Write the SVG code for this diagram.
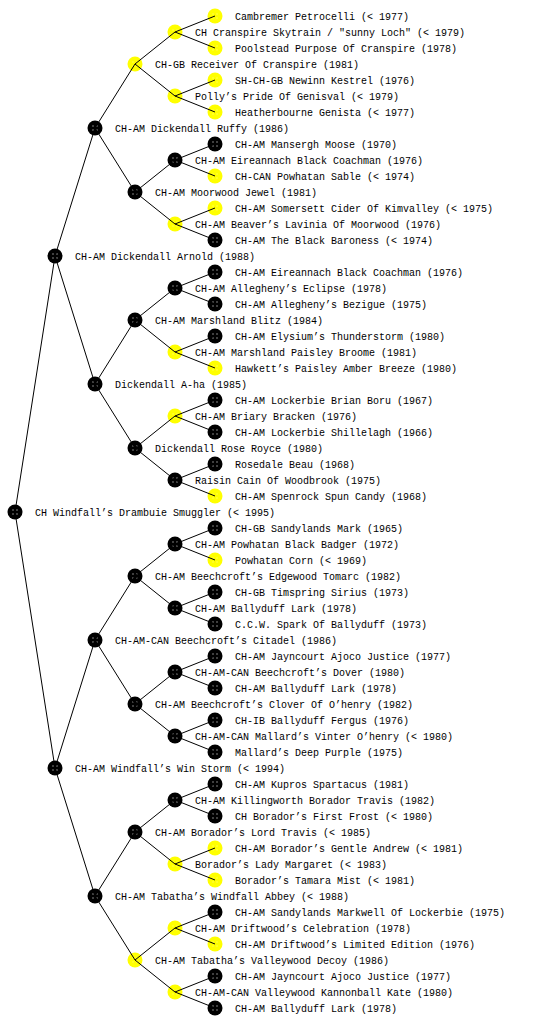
<svg xmlns="http://www.w3.org/2000/svg" xmlns:xlink="http://www.w3.org/1999/xlink" width="560" height="1024" viewBox="0 0 560 1024">
<style>
text{font-family:"Liberation Mono","DejaVu Sans Mono",monospace;font-size:10px;fill:#000}
#edges line{stroke:#000;stroke-width:1}
</style>
<defs>
<pattern id="wd" patternUnits="userSpaceOnUse" x="0.5" y="0.5" width="4" height="4"><rect x="1" y="1" width="1" height="1" fill="#fff"/></pattern>
<pattern id="yd" patternUnits="userSpaceOnUse" x="0.5" y="0.5" width="4" height="4"><rect x="1" y="1" width="1" height="1" fill="#ffff90"/></pattern>
<g id="B"><circle r="7.5" fill="#000"/><circle r="5" fill="url(#wd)"/></g>
<g id="Y"><circle r="7.5" fill="#ffff00"/><circle r="5" fill="url(#yd)"/></g>
</defs>
<rect width="560" height="1024" fill="#fff"/>
<g id="nodes">
<g id="n1"><use xlink:href="#Y" x="215" y="16"/><text x="235" y="19.5">Cambremer Petrocelli (&lt; 1977)</text></g>
<g id="n2"><use xlink:href="#Y" x="175" y="32"/><text x="195" y="35.5">CH Cranspire Skytrain / "sunny Loch" (&lt; 1979)</text></g>
<g id="n3"><use xlink:href="#Y" x="215" y="48"/><text x="235" y="51.5">Poolstead Purpose Of Cranspire (1978)</text></g>
<g id="n4"><use xlink:href="#Y" x="135" y="64"/><text x="155" y="67.5">CH-GB Receiver Of Cranspire (1981)</text></g>
<g id="n5"><use xlink:href="#Y" x="215" y="80"/><text x="235" y="83.5">SH-CH-GB Newinn Kestrel (1976)</text></g>
<g id="n6"><use xlink:href="#Y" x="175" y="96"/><text x="195" y="99.5">Polly’s Pride Of Genisval (&lt; 1979)</text></g>
<g id="n7"><use xlink:href="#Y" x="215" y="112"/><text x="235" y="115.5">Heatherbourne Genista (&lt; 1977)</text></g>
<g id="n8"><use xlink:href="#B" x="95" y="128"/><text x="115" y="131.5">CH-AM Dickendall Ruffy (1986)</text></g>
<g id="n9"><use xlink:href="#B" x="215" y="144"/><text x="235" y="147.5">CH-AM Mansergh Moose (1970)</text></g>
<g id="n10"><use xlink:href="#B" x="175" y="160"/><text x="195" y="163.5">CH-AM Eireannach Black Coachman (1976)</text></g>
<g id="n11"><use xlink:href="#Y" x="215" y="176"/><text x="235" y="179.5">CH-CAN Powhatan Sable (&lt; 1974)</text></g>
<g id="n12"><use xlink:href="#B" x="135" y="192"/><text x="155" y="195.5">CH-AM Moorwood Jewel (1981)</text></g>
<g id="n13"><use xlink:href="#Y" x="215" y="208"/><text x="235" y="211.5">CH-AM Somersett Cider Of Kimvalley (&lt; 1975)</text></g>
<g id="n14"><use xlink:href="#Y" x="175" y="224"/><text x="195" y="227.5">CH-AM Beaver’s Lavinia Of Moorwood (1976)</text></g>
<g id="n15"><use xlink:href="#B" x="215" y="240"/><text x="235" y="243.5">CH-AM The Black Baroness (&lt; 1974)</text></g>
<g id="n16"><use xlink:href="#B" x="55" y="256"/><text x="75" y="259.5">CH-AM Dickendall Arnold (1988)</text></g>
<g id="n17"><use xlink:href="#B" x="215" y="272"/><text x="235" y="275.5">CH-AM Eireannach Black Coachman (1976)</text></g>
<g id="n18"><use xlink:href="#B" x="175" y="288"/><text x="195" y="291.5">CH-AM Allegheny’s Eclipse (1978)</text></g>
<g id="n19"><use xlink:href="#B" x="215" y="304"/><text x="235" y="307.5">CH-AM Allegheny’s Bezigue (1975)</text></g>
<g id="n20"><use xlink:href="#B" x="135" y="320"/><text x="155" y="323.5">CH-AM Marshland Blitz (1984)</text></g>
<g id="n21"><use xlink:href="#B" x="215" y="336"/><text x="235" y="339.5">CH-AM Elysium’s Thunderstorm (1980)</text></g>
<g id="n22"><use xlink:href="#Y" x="175" y="352"/><text x="195" y="355.5">CH-AM Marshland Paisley Broome (1981)</text></g>
<g id="n23"><use xlink:href="#Y" x="215" y="368"/><text x="235" y="371.5">Hawkett’s Paisley Amber Breeze (1980)</text></g>
<g id="n24"><use xlink:href="#B" x="95" y="384"/><text x="115" y="387.5">Dickendall A-ha (1985)</text></g>
<g id="n25"><use xlink:href="#B" x="215" y="400"/><text x="235" y="403.5">CH-AM Lockerbie Brian Boru (1967)</text></g>
<g id="n26"><use xlink:href="#Y" x="175" y="416"/><text x="195" y="419.5">CH-AM Briary Bracken (1976)</text></g>
<g id="n27"><use xlink:href="#B" x="215" y="432"/><text x="235" y="435.5">CH-AM Lockerbie Shillelagh (1966)</text></g>
<g id="n28"><use xlink:href="#B" x="135" y="448"/><text x="155" y="451.5">Dickendall Rose Royce (1980)</text></g>
<g id="n29"><use xlink:href="#B" x="215" y="464"/><text x="235" y="467.5">Rosedale Beau (1968)</text></g>
<g id="n30"><use xlink:href="#B" x="175" y="480"/><text x="195" y="483.5">Raisin Cain Of Woodbrook (1975)</text></g>
<g id="n31"><use xlink:href="#Y" x="215" y="496"/><text x="235" y="499.5">CH-AM Spenrock Spun Candy (1968)</text></g>
<g id="n32"><use xlink:href="#B" x="15" y="512"/><text x="35" y="515.5">CH Windfall’s Drambuie Smuggler (&lt; 1995)</text></g>
<g id="n33"><use xlink:href="#B" x="215" y="528"/><text x="235" y="531.5">CH-GB Sandylands Mark (1965)</text></g>
<g id="n34"><use xlink:href="#B" x="175" y="544"/><text x="195" y="547.5">CH-AM Powhatan Black Badger (1972)</text></g>
<g id="n35"><use xlink:href="#Y" x="215" y="560"/><text x="235" y="563.5">Powhatan Corn (&lt; 1969)</text></g>
<g id="n36"><use xlink:href="#B" x="135" y="576"/><text x="155" y="579.5">CH-AM Beechcroft’s Edgewood Tomarc (1982)</text></g>
<g id="n37"><use xlink:href="#B" x="215" y="592"/><text x="235" y="595.5">CH-GB Timspring Sirius (1973)</text></g>
<g id="n38"><use xlink:href="#B" x="175" y="608"/><text x="195" y="611.5">CH-AM Ballyduff Lark (1978)</text></g>
<g id="n39"><use xlink:href="#B" x="215" y="624"/><text x="235" y="627.5">C.C.W. Spark Of Ballyduff (1973)</text></g>
<g id="n40"><use xlink:href="#B" x="95" y="640"/><text x="115" y="643.5">CH-AM-CAN Beechcroft’s Citadel (1986)</text></g>
<g id="n41"><use xlink:href="#B" x="215" y="656"/><text x="235" y="659.5">CH-AM Jayncourt Ajoco Justice (1977)</text></g>
<g id="n42"><use xlink:href="#B" x="175" y="672"/><text x="195" y="675.5">CH-AM-CAN Beechcroft’s Dover (1980)</text></g>
<g id="n43"><use xlink:href="#B" x="215" y="688"/><text x="235" y="691.5">CH-AM Ballyduff Lark (1978)</text></g>
<g id="n44"><use xlink:href="#B" x="135" y="704"/><text x="155" y="707.5">CH-AM Beechcroft’s Clover Of O’henry (1982)</text></g>
<g id="n45"><use xlink:href="#B" x="215" y="720"/><text x="235" y="723.5">CH-IB Ballyduff Fergus (1976)</text></g>
<g id="n46"><use xlink:href="#B" x="175" y="736"/><text x="195" y="739.5">CH-AM-CAN Mallard’s Vinter O’henry (&lt; 1980)</text></g>
<g id="n47"><use xlink:href="#B" x="215" y="752"/><text x="235" y="755.5">Mallard’s Deep Purple (1975)</text></g>
<g id="n48"><use xlink:href="#B" x="55" y="768"/><text x="75" y="771.5">CH-AM Windfall’s Win Storm (&lt; 1994)</text></g>
<g id="n49"><use xlink:href="#B" x="215" y="784"/><text x="235" y="787.5">CH-AM Kupros Spartacus (1981)</text></g>
<g id="n50"><use xlink:href="#B" x="175" y="800"/><text x="195" y="803.5">CH-AM Killingworth Borador Travis (1982)</text></g>
<g id="n51"><use xlink:href="#B" x="215" y="816"/><text x="235" y="819.5">CH Borador’s First Frost (&lt; 1980)</text></g>
<g id="n52"><use xlink:href="#B" x="135" y="832"/><text x="155" y="835.5">CH-AM Borador’s Lord Travis (&lt; 1985)</text></g>
<g id="n53"><use xlink:href="#Y" x="215" y="848"/><text x="235" y="851.5">CH-AM Borador’s Gentle Andrew (&lt; 1981)</text></g>
<g id="n54"><use xlink:href="#Y" x="175" y="864"/><text x="195" y="867.5">Borador’s Lady Margaret (&lt; 1983)</text></g>
<g id="n55"><use xlink:href="#Y" x="215" y="880"/><text x="235" y="883.5">Borador’s Tamara Mist (&lt; 1981)</text></g>
<g id="n56"><use xlink:href="#B" x="95" y="896"/><text x="115" y="899.5">CH-AM Tabatha’s Windfall Abbey (&lt; 1988)</text></g>
<g id="n57"><use xlink:href="#B" x="215" y="912"/><text x="235" y="915.5">CH-AM Sandylands Markwell Of Lockerbie (1975)</text></g>
<g id="n58"><use xlink:href="#Y" x="175" y="928"/><text x="195" y="931.5">CH-AM Driftwood’s Celebration (1978)</text></g>
<g id="n59"><use xlink:href="#Y" x="215" y="944"/><text x="235" y="947.5">CH-AM Driftwood’s Limited Edition (1976)</text></g>
<g id="n60"><use xlink:href="#Y" x="135" y="960"/><text x="155" y="963.5">CH-AM Tabatha’s Valleywood Decoy (1986)</text></g>
<g id="n61"><use xlink:href="#B" x="215" y="976"/><text x="235" y="979.5">CH-AM Jayncourt Ajoco Justice (1977)</text></g>
<g id="n62"><use xlink:href="#Y" x="175" y="992"/><text x="195" y="995.5">CH-AM-CAN Valleywood Kannonball Kate (1980)</text></g>
<g id="n63"><use xlink:href="#B" x="215" y="1008"/><text x="235" y="1011.5">CH-AM Ballyduff Lark (1978)</text></g>
</g>
<g id="edges">
<line x1="15" y1="512" x2="55" y2="256"/><line x1="15" y1="512" x2="55" y2="768"/>
<line x1="55" y1="256" x2="95" y2="128"/><line x1="55" y1="256" x2="95" y2="384"/>
<line x1="55" y1="768" x2="95" y2="640"/><line x1="55" y1="768" x2="95" y2="896"/>
<line x1="95" y1="128" x2="135" y2="64"/><line x1="95" y1="128" x2="135" y2="192"/>
<line x1="95" y1="384" x2="135" y2="320"/><line x1="95" y1="384" x2="135" y2="448"/>
<line x1="95" y1="640" x2="135" y2="576"/><line x1="95" y1="640" x2="135" y2="704"/>
<line x1="95" y1="896" x2="135" y2="832"/><line x1="95" y1="896" x2="135" y2="960"/>
<line x1="135" y1="64" x2="175" y2="32"/><line x1="135" y1="64" x2="175" y2="96"/>
<line x1="135" y1="192" x2="175" y2="160"/><line x1="135" y1="192" x2="175" y2="224"/>
<line x1="135" y1="320" x2="175" y2="288"/><line x1="135" y1="320" x2="175" y2="352"/>
<line x1="135" y1="448" x2="175" y2="416"/><line x1="135" y1="448" x2="175" y2="480"/>
<line x1="135" y1="576" x2="175" y2="544"/><line x1="135" y1="576" x2="175" y2="608"/>
<line x1="135" y1="704" x2="175" y2="672"/><line x1="135" y1="704" x2="175" y2="736"/>
<line x1="135" y1="832" x2="175" y2="800"/><line x1="135" y1="832" x2="175" y2="864"/>
<line x1="135" y1="960" x2="175" y2="928"/><line x1="135" y1="960" x2="175" y2="992"/>
<line x1="175" y1="32" x2="215" y2="16"/><line x1="175" y1="32" x2="215" y2="48"/>
<line x1="175" y1="96" x2="215" y2="80"/><line x1="175" y1="96" x2="215" y2="112"/>
<line x1="175" y1="160" x2="215" y2="144"/><line x1="175" y1="160" x2="215" y2="176"/>
<line x1="175" y1="224" x2="215" y2="208"/><line x1="175" y1="224" x2="215" y2="240"/>
<line x1="175" y1="288" x2="215" y2="272"/><line x1="175" y1="288" x2="215" y2="304"/>
<line x1="175" y1="352" x2="215" y2="336"/><line x1="175" y1="352" x2="215" y2="368"/>
<line x1="175" y1="416" x2="215" y2="400"/><line x1="175" y1="416" x2="215" y2="432"/>
<line x1="175" y1="480" x2="215" y2="464"/><line x1="175" y1="480" x2="215" y2="496"/>
<line x1="175" y1="544" x2="215" y2="528"/><line x1="175" y1="544" x2="215" y2="560"/>
<line x1="175" y1="608" x2="215" y2="592"/><line x1="175" y1="608" x2="215" y2="624"/>
<line x1="175" y1="672" x2="215" y2="656"/><line x1="175" y1="672" x2="215" y2="688"/>
<line x1="175" y1="736" x2="215" y2="720"/><line x1="175" y1="736" x2="215" y2="752"/>
<line x1="175" y1="800" x2="215" y2="784"/><line x1="175" y1="800" x2="215" y2="816"/>
<line x1="175" y1="864" x2="215" y2="848"/><line x1="175" y1="864" x2="215" y2="880"/>
<line x1="175" y1="928" x2="215" y2="912"/><line x1="175" y1="928" x2="215" y2="944"/>
<line x1="175" y1="992" x2="215" y2="976"/><line x1="175" y1="992" x2="215" y2="1008"/>
</g>
</svg>
